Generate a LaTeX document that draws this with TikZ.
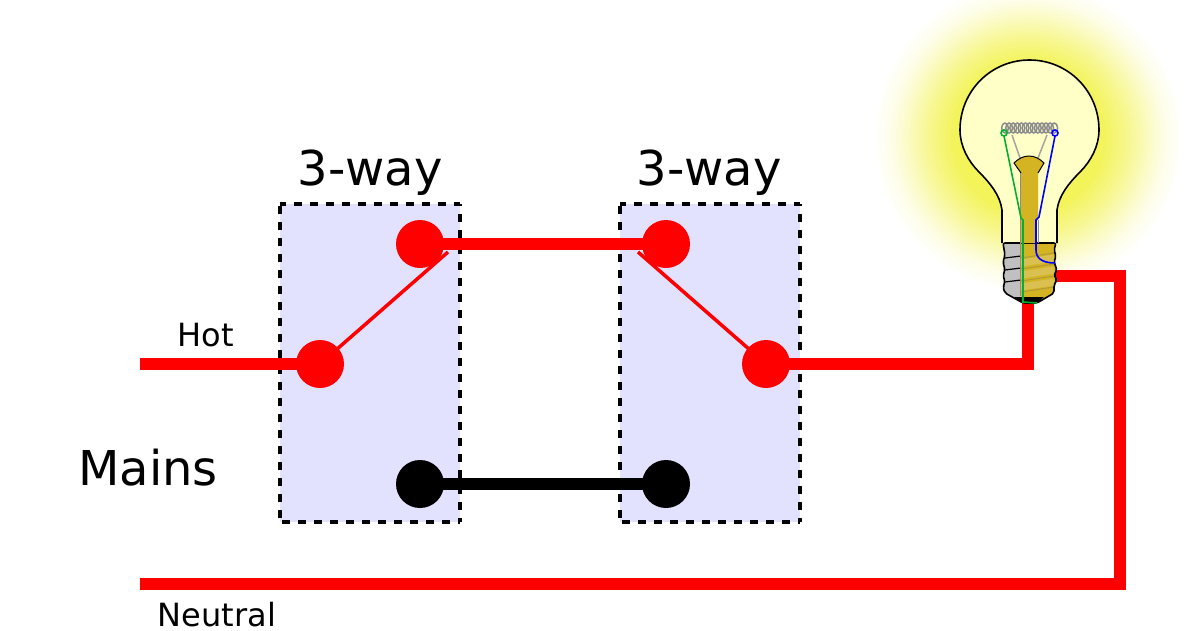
\documentclass[tikz,border=0pt]{standalone}
\usepackage{fontspec}
\setmainfont{DejaVu Sans}
\usepackage{xcolor}
\usetikzlibrary{calc}
\definecolor{boxfill}{HTML}{E2E2FF}
\definecolor{live}{HTML}{FF0000}
\definecolor{glass}{HTML}{FFFFC8}
\definecolor{glowin}{HTML}{F3F35A}
\definecolor{gold}{HTML}{D4B422}
\definecolor{goldlight}{HTML}{D9C050}
\definecolor{goldline}{HTML}{B09A3A}
\definecolor{capgrey}{HTML}{C0C0C0}
\definecolor{coil}{HTML}{8C8C8C}
\definecolor{leadg}{HTML}{00B030}
\definecolor{leadb}{HTML}{0000FF}
\pgfdeclareradialshading{lampglow}{\pgfpoint{0bp}{0bp}}{
  color(0bp)=(glowin); color(12bp)=(glowin); color(16bp)=(glowin!68!white);
  color(19.4bp)=(glowin!36!white); color(22bp)=(glowin!14!white);
  color(25bp)=(white); color(100bp)=(white)}
\tikzset{
  swbox/.style={fill=boxfill, minimum width=180pt, minimum height=318pt, inner sep=0pt},
  swline/.style={draw=black, line width=4pt, dash pattern=on 8pt off 8pt},
  wire/.style={draw=live, line width=12pt},
  blackwire/.style={draw=black, line width=12pt},
  arm/.style={draw=live, line width=3.5pt},
  post/.style={circle, fill=live, inner sep=0pt, minimum size=48pt},
  blackpost/.style={circle, fill=black, inner sep=0pt, minimum size=48pt},
  big/.style={font=\fontsize{48}{48}\selectfont, anchor=base, inner sep=0pt},
  small/.style={font=\fontsize{32}{32}\selectfont, anchor=base, inner sep=0pt},
  glassline/.style={draw=black, line width=1.6pt, line join=round},
  thread/.style={draw=goldline, line width=1pt},
  capline/.style={draw=black, line width=1.2pt},
  filament/.style={draw=coil, line width=1.5pt},
  lead/.style={line width=1.6pt},
}
\begin{document}
\begin{tikzpicture}[x=1pt,y=-1pt]
  \useasboundingbox (0,0) rectangle (1200,630);
  % lamp glow
  \shade[shading=lampglow] (1028,137) circle (155);
  % switch boxes
  \node[swbox] (boxa) at (370,363) {};
  \node[swbox] (boxb) at (710,363) {};
  \foreach \b in {boxa,boxb} {
    \draw[swline, dash phase=2pt] (\b.north west) -- (\b.north east);
    \draw[swline, dash phase=6pt] (\b.north east) -- (\b.south east);
    \draw[swline, dash phase=14pt] (\b.south west) -- (\b.south east);
    \draw[swline, dash phase=14pt] (\b.north west) -- (\b.south west);
  }
  \node[big] (waya) at (370,185) {3-way};
  \node[big] (wayb) at (709,185) {3-way};
  % free ends
  \coordinate (hotin) at (140,364);
  \coordinate (neutin) at (140,584);
  \coordinate (lampfoot) at (1028,300);
  \coordinate (lampside) at (1056,276);
  \coordinate (neutturn) at (1120,276);
  \coordinate (tipa) at (448,252);
  \coordinate (tipb) at (638,252);
  % posts
  \node[post] (pa) at (320,364) {};
  \node[post] (pb) at (420,244) {};
  \node[post] (pc) at (666,244) {};
  \node[post] (pd) at (766,364) {};
  \node[blackpost] (pe) at (420,484) {};
  \node[blackpost] (pf) at (666,484) {};
  % wires
  \draw[wire] (hotin) -- (pa.center);
  \draw[wire] (pb.center) -- (pc.center);
  \draw[blackwire] (pe.center) -- (pf.center);
  \draw[wire] (pd.center) -| (lampfoot);
  \draw[wire] (neutin) -| (neutturn) -- (lampside);
  \draw[arm] (pa.center) -- (tipa);
  \draw[arm] (pd.center) -- (tipb);
  % labels
  \node[small] (hot) at (206,346) {Hot};
  \node[big] (mains) at (148,485) {Mains};
  \node[small] (neutral) at (217,626) {Neutral};
  % lamp
  \draw[glassline, fill=glass] (1002,243) -- (1002,210)
    .. controls (1000,195) and (990,183) .. (979,172)
    .. controls (968,161) and (960,146) .. (960,130)
    .. controls (960,91) and (991,60) .. (1029.5,60)
    .. controls (1068,60) and (1099,91) .. (1099,130)
    .. controls (1099,146) and (1091,161) .. (1080,172)
    .. controls (1069,183) and (1059,195) .. (1057,210)
    -- (1057,243);
  % screw base
  \begin{scope}[rounded corners=2pt]
    \fill[gold] (1021,243) -- (1056,243) -- (1054,250) -- (1056,256) -- (1054,262) -- (1057,270)
      -- (1054,275) -- (1057,280) -- (1054,285) -- (1054,293) -- (1037,303) -- (1021,303) -- cycle;
    \fill[capgrey] (1021,243) -- (1003,243) -- (1005,255) -- (1003,262) -- (1005,270) -- (1003,275)
      -- (1005,282) -- (1003,287) -- (1005,293) -- (1021,302) -- cycle;
  \end{scope}
  \foreach \yy in {263,275,287}
    \draw[draw=goldlight, line width=7pt] (1021,\yy) -- (1054,\yy-5);
  \foreach \yy in {258,269,281,292}
    \draw[thread] (1021,\yy) -- (1054,\yy-5);
  \foreach \yy in {258,270,282}
    \draw[capline] (1005,\yy) -- (1021,\yy-2);
  \fill[black] (1014,297) -- (1044,297) -- (1037,303) -- (1023,303) -- cycle;
  \draw[glassline, rounded corners=2pt] (1003,243) -- (1056,243) -- (1054,250) -- (1056,256) -- (1054,262)
    -- (1057,270) -- (1054,275) -- (1057,280) -- (1054,285) -- (1054,293) -- (1037,303) -- (1023,303)
    -- (1005,293) -- (1003,287) -- (1005,282) -- (1003,275) -- (1005,270) -- (1003,262) -- (1005,255) -- cycle;
  % filament
  \draw[draw=coil!80!white, line width=1.5pt] (1012,135) -- (1020,158) (1047,135) -- (1038,158);
  \foreach \k in {0,...,12}
    \draw[filament] ({1005+\k*4.1},128) ellipse (3.4 and 5);
  % stem
  \fill[gold] (1021,303) -- (1021,173) -- (1014,163)
    .. controls (1018,159) and (1023,156) .. (1029,156)
    .. controls (1035,156) and (1040,159) .. (1044,163)
    -- (1038,173) -- (1038,220) -- (1036,220) -- (1036,243) -- (1021,243) -- cycle;
  \draw[draw=coil, line width=1pt] (1020.5,173) -- (1020.5,296) (1038,220) -- (1038,243);
  \draw[draw=black, line width=1pt] (1021,173) -- (1014,163)
    .. controls (1018,159) and (1023,156) .. (1029,156)
    .. controls (1035,156) and (1040,159) .. (1044,163) -- (1038,173);
  % leads
  \draw[leadg, lead] (1004,133) circle (3);
  \draw[leadb, lead] (1055,133) circle (3);
  \draw[leadg, lead] (1004,136) -- (1021,218) -- (1023,220) -- (1023,302) -- (1037,303);
  \draw[leadb, lead] (1055,136) -- (1039,217) -- (1036,220) -- (1036,250)
    .. controls (1036,258) and (1042,263) .. (1055,263);
\end{tikzpicture}
\end{document}
